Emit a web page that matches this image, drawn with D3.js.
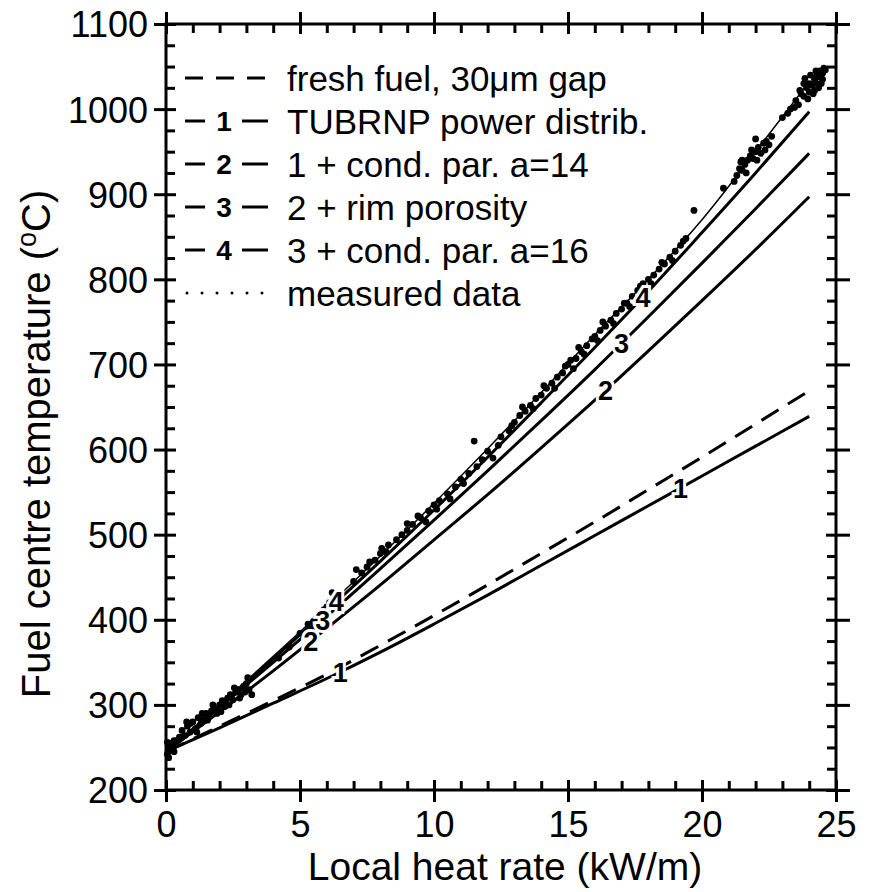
<!DOCTYPE html>
<html><head><meta charset="utf-8">
<script src="https://cdn.jsdelivr.net/npm/d3@7"></script>
<style>body{margin:0;background:#fff}svg{display:block}text{font-family:"Liberation Sans",Arial,sans-serif;fill:#000}</style>
</head><body><svg id="c" width="874" height="892"></svg>
<script>
// ---- data ----
const xGrid = [0,2,4,6,8,10,12,14,16,18,20,22,24];
const freshFuel = [245,275,305,336,370,405,441,478,515,553,591,630,669];
const line1 = [245,273,302,331,362,395,429,464,499,534,569,604,639];
const line2 = [245,292,340,390,441,494,547,602,658,716,775,835,897];
const line3 = [245,297,350,404,460,517,575,634,694,756,819,883,948];
const line4 = [245,298,354,411,469,529,591,655,720,786,855,925,997];
const thinFit = [245,300,357,415,475,537,601,667,735,800,870,950,1032];
const measured = [
 [0.05,242],[0.1,250],[0.15,246],[0.2,255],[0.1,238],[0.25,252],[0.3,258],[0.05,256],[0.3,245],[0.4,258],
 [0.5,262],[0.6,270],[0.7,264],[0.8,275],[0.9,268],[1.0,280],[1.1,272],[1.2,285],[1.3,278],[1.4,283],[1.5,290],[0.77,280],
 [0.6,262],[0.9,278],[1.15,268],[1.35,290],[1.55,282],[1.75,300],[2.05,292],[2.35,300],[2.55,320],[2.75,308],[2.95,315],[3.05,332],
 [1.6,287],[1.7,293],[1.8,296],[1.9,290],[2.0,300],[2.1,305],[2.2,298],[2.3,308],[2.4,312],[2.5,306],[2.6,315],[2.7,318],[2.8,312],[2.9,322],[3.0,325],[3.1,318],[3.2,312],
 [4.2,355],[4.6,368],[5.0,384],
 [5.3,395],[5.45,390],[5.5,398],[5.6,402],[5.65,396],[5.7,408],[5.8,405],[5.9,412],[5.95,400],[6.0,415],[6.1,420],[6.2,432],[6.3,418],
 [7.0,445],[7.1,459],[7.3,455],[7.5,462],[7.6,468],[7.8,470],[8.0,478],[8.05,484],[8.2,480],[8.3,488],[8.6,494],[8.8,500],[9.0,505],[9.0,513],[9.2,512],[9.4,522],[9.5,520],[9.7,515],[9.8,528],[10.0,535],[10.1,530],[10.2,540],
 [10.5,548],[10.6,542],[10.8,556],[11.0,565],[11.1,560],[11.3,572],[11.5,610],[11.6,580],[11.8,588],[12.0,598],[12.2,590],
 [12.4,605],[12.5,615],[12.8,622],[12.9,628],[13.0,632],[13.2,640],[13.3,650],[13.4,645],[13.6,652],[13.7,648],[13.8,660],[14.0,664],[14.1,675],[14.2,672],
 [14.4,678],[14.5,672],[14.6,685],[14.8,690],[14.9,698],[15.0,700],[15.1,705],[15.2,695],[15.3,707],[15.4,720],[15.5,715],[15.6,712],[15.7,722],[15.9,730],[16.0,733],[16.1,728],
 [16.2,740],[16.3,750],[16.4,745],[16.6,752],[16.7,748],[16.8,760],[17.0,765],[17.1,772],[17.2,772],[17.3,768],[17.4,780],[17.6,787],[17.7,792],[17.8,795],[18.0,800],[18.1,795],[18.2,805],
 [18.4,812],[18.5,820],[18.6,818],[18.8,826],[18.9,822],[19.0,833],[19.2,840],[19.3,845],[19.4,848],
 [19.7,881],[20.8,907],
 [21.2,915],[21.3,922],[21.4,930],[21.45,938],[21.5,928],[21.6,935],[21.65,925],[21.7,940],[21.8,945],[21.85,952],[21.9,942],[22.0,950],[22.05,940],[22.1,955],[22.2,948],[22.3,960],[22.35,952],[22.4,962],[22.5,958],[21.5,940],[22.0,965],[22.6,968],
 [23.0,990],[23.2,995],[23.3,1000],[23.45,1002],[23.5,1010],[23.6,1005],[23.65,1022],[23.7,1018],[23.8,1015],[23.9,1025],[23.95,1012],[24.0,1020],[24.0,1030],[24.05,1040],[24.1,1028],[24.15,1018],[24.2,1035],[24.2,1022],[24.25,1045],[24.3,1040],[24.3,1030],[24.35,1025],[24.4,1038],[24.4,1045],[24.45,1030],[24.5,1035],[24.5,1042],[24.55,1048],[24.6,1046],[23.8,1030],[23.84,1036]
];
const xMajor = [0,5,10,15,20,25];
const yMajor = [200,300,400,500,600,700,800,900,1000,1100];
const legendLabels = ["fresh fuel, 30\u03BCm gap","TUBRNP power distrib.","1 + cond. par. a=14","2 + rim porosity","3 + cond. par. a=16","measured data"];
const legendKeys = ["","1","2","3","4",""];
// curve labels: [series index, x position]
const curveLabels = [[1,6.5],[1,19.2],[2,5.4],[2,16.4],[3,5.85],[3,17.0],[4,6.35],[4,17.8]];

// ---- chart ----
const svg = d3.select("#c");
const x = d3.scaleLinear().domain([0,25]).range([166,836]);
const y = d3.scaleLinear().domain([200,1100]).range([790,24]);
const series = [freshFuel,line1,line2,line3,line4];
const lineGen = d3.line().x(d=>x(d[0])).y(d=>y(d[1])).curve(d3.curveMonotoneX);

// thin fitted line
svg.append("path").attr("d", lineGen(xGrid.map((v,i)=>[v,thinFit[i]])))
  .attr("fill","none").attr("stroke","#000").attr("stroke-width",1.5);
// measured dots
svg.append("g").selectAll("circle").data(measured).join("circle")
  .attr("cx",d=>x(d[0])).attr("cy",d=>y(d[1])).attr("r",3.4).attr("fill","#000");
// model lines
series.forEach((s,i)=>{
  svg.append("path").attr("d", lineGen(xGrid.map((v,j)=>[v,s[j]])))
    .attr("fill","none").attr("stroke","#000").attr("stroke-width",3)
    .attr("stroke-dasharray", i===0 ? "20,11" : null);
});
// curve labels
const interp = (s,xv)=>{ const f=d3.scaleLinear().domain(xGrid).range(s); return f(xv); };
curveLabels.forEach(([si,xv])=>{
  svg.append("text").attr("x",x(xv)).attr("y",y(interp(series[si],xv)))
    .attr("dy","0.36em").attr("text-anchor","middle")
    .style("font-size","27px").style("font-weight","bold")
    .attr("stroke","#fff").attr("stroke-width",6).attr("paint-order","stroke")
    .text(String(si));
});

// axes
function mkAxis(gen, transform, size, vals, labels){
  const g = svg.append("g").attr("transform",transform)
    .call(gen.tickValues(vals).tickSize(size).tickSizeOuter(0).tickPadding(6).tickFormat(labels?d3.format("d"):""));
  g.selectAll("line").attr("stroke","#000").attr("stroke-width",3);
  g.select(".domain").remove();
  g.selectAll("text").style("font-size","36px").style("font-family","Liberation Sans, Arial, sans-serif").attr("fill","#000");
  return g;
}
const xMinor = d3.range(0,26,1).filter(v=>v%5!==0);
const yMinor = d3.range(200,1101,25).filter(v=>v%100!==0);
// bottom
mkAxis(d3.axisBottom(x),`translate(0,${y(200)})`,12,xMajor,true).selectAll("text").attr("dy","0.8em");
mkAxis(d3.axisBottom(x),`translate(0,${y(200)})`,-10,xMajor,false);
mkAxis(d3.axisBottom(x),`translate(0,${y(200)})`,-9,xMinor,false);
// top
mkAxis(d3.axisTop(x),`translate(0,${y(1100)})`,12,xMajor,false);
mkAxis(d3.axisTop(x),`translate(0,${y(1100)})`,-10,xMajor,false);
mkAxis(d3.axisTop(x),`translate(0,${y(1100)})`,-9,xMinor,false);
// left
mkAxis(d3.axisLeft(y),`translate(${x(0)},0)`,12,yMajor,true).selectAll("text").attr("dy","0.36em");
mkAxis(d3.axisLeft(y),`translate(${x(0)},0)`,-10,yMajor,false);
mkAxis(d3.axisLeft(y),`translate(${x(0)},0)`,-9,yMinor,false);
// right
mkAxis(d3.axisRight(y),`translate(${x(25)},0)`,14,yMajor,false);
mkAxis(d3.axisRight(y),`translate(${x(25)},0)`,-10,yMajor,false);
mkAxis(d3.axisRight(y),`translate(${x(25)},0)`,-9,yMinor,false);
// frame
svg.append("rect").attr("x",x(0)).attr("y",y(1100)).attr("width",x(25)-x(0)).attr("height",y(200)-y(1100))
  .attr("fill","none").attr("stroke","#000").attr("stroke-width",3);

// axis titles
svg.append("text").attr("x",505).attr("y",880).attr("text-anchor","middle").style("font-size","39px").text("Local heat rate (kW/m)");
const yt = svg.append("text").attr("transform","translate(50,444) rotate(-90)").attr("text-anchor","middle").style("font-size","40px");
yt.append("tspan").text("Fuel centre temperature (");
yt.append("tspan").attr("dy",-14).style("font-size","27px").text("o");
yt.append("tspan").attr("dy",14).text("C)");

// legend
const lg = svg.append("g");
legendLabels.forEach((t,i)=>{
  const cy = 78 + i*43;
  if(i===0){
    lg.append("line").attr("x1",185).attr("x2",268).attr("y1",cy).attr("y2",cy).attr("stroke","#000").attr("stroke-width",3).attr("stroke-dasharray","18,13");
  } else if(i===5){
    lg.append("line").attr("x1",187).attr("x2",268).attr("y1",cy).attr("y2",cy).attr("stroke","#000").attr("stroke-width",3).attr("stroke-linecap","round").attr("stroke-dasharray","0,15");
  } else {
    lg.append("line").attr("x1",185).attr("x2",205).attr("y1",cy).attr("y2",cy).attr("stroke","#000").attr("stroke-width",3);
    lg.append("line").attr("x1",242).attr("x2",268).attr("y1",cy).attr("y2",cy).attr("stroke","#000").attr("stroke-width",3);
    lg.append("text").attr("x",224).attr("y",cy).attr("dy","0.36em").attr("text-anchor","middle").style("font-size","28px").style("font-weight","bold").text(legendKeys[i]);
  }
  lg.append("text").attr("x",287).attr("y",cy).attr("dy","0.36em").style("font-size","35px").text(t);
});
</script></body></html>
